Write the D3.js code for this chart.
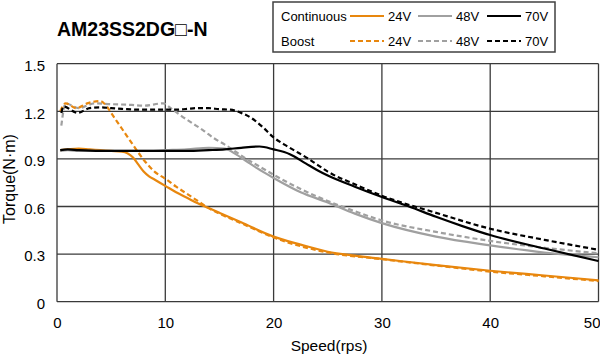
<!DOCTYPE html>
<html><head><meta charset="utf-8">
<script src="https://cdn.jsdelivr.net/npm/d3@7"></script>
<style>body{margin:0;background:#fff;} text{font-family:"Liberation Sans",Arial,sans-serif;}</style>
</head><body><svg id="c" width="600" height="357"></svg>
<script>
const xTicks=[0,10,20,30,40,50];
const yTicks=[0,0.3,0.6,0.9,1.2,1.5];
const yTickLabels=["0","0.3","0.6","0.9","1.2","1.5"];
const voltages=["24V","48V","70V"];
const colors=["#E8870E","#A0A0A0","#000000"];

const cont24X=[0.3,1,2,3,4,5,6,6.5,7,7.5,8,8.5,9,10,11,12,13,14,15,17,20,22.5,25,27.5,30,35,40,45,50];
const cont24Y=[0.955,0.96,0.965,0.96,0.955,0.95,0.945,0.935,0.91,0.865,0.82,0.79,0.77,0.73,0.69,0.655,0.62,0.59,0.56,0.5,0.41,0.36,0.315,0.29,0.27,0.23,0.195,0.165,0.135];
const boost24X=[0.3,0.8,1.8,2.8,4,4.6,5,6,7,8,9,10,11,12,13,14,15,17,20,25,30,35,40,45,50];
const boost24Y=[1.2,1.25,1.22,1.25,1.265,1.23,1.19,1.09,0.99,0.895,0.82,0.775,0.725,0.68,0.635,0.59,0.555,0.495,0.405,0.31,0.268,0.228,0.19,0.16,0.13];
const cont48X=[0.3,1,2,4,6,8,10,12,14,15.5,16.5,17.5,18.5,20,22.5,25,27.5,30,35,40,45,50];
const cont48Y=[0.95,0.955,0.95,0.95,0.95,0.95,0.955,0.96,0.97,0.965,0.93,0.885,0.84,0.78,0.69,0.625,0.555,0.495,0.41,0.355,0.31,0.28];
const boost48X=[0.4,0.8,2,3.5,5,6.9,8,9.8,10.5,11.5,12.5,13.5,14.5,15.5,16.5,17.5,18.5,20,22.5,25,27.5,30,35,40,45,50];
const boost48Y=[1.11,1.25,1.22,1.25,1.245,1.24,1.235,1.25,1.22,1.17,1.125,1.08,1.03,0.99,0.945,0.9,0.86,0.8,0.71,0.635,0.57,0.512,0.44,0.383,0.34,0.305];
const cont70X=[0.3,1,2,4,6,8,10,12,14,15.5,17,18.7,20,21.5,23,24,25,27.5,30,32.5,35,37.5,40,45,50];
const cont70Y=[0.955,0.96,0.955,0.95,0.95,0.95,0.95,0.95,0.955,0.96,0.97,0.978,0.96,0.93,0.87,0.83,0.795,0.725,0.66,0.6,0.535,0.475,0.42,0.335,0.256];
const boost70X=[0.4,0.6,1.9,3,4,5,6,8,10,11,12,13,14,15,16,17,18,19,20,21,22,23,24,25,27.5,30,35,40,45,50];
const boost70Y=[1.19,1.23,1.19,1.22,1.225,1.22,1.215,1.21,1.21,1.21,1.215,1.22,1.22,1.213,1.21,1.19,1.155,1.1,1.035,0.99,0.95,0.91,0.865,0.82,0.74,0.668,0.56,0.46,0.39,0.327];

const L=57,R=598.5,T=63.7,B=301.7;
const svg=d3.select("#c");
const x=d3.scaleLinear().domain([0,50]).range([L,R]);
const y=d3.scaleLinear().domain([0,1.5]).range([B,T]);
const grid="#3a3a3a";

svg.append("g").selectAll("line").data(xTicks).join("line")
 .attr("x1",d=>x(d)).attr("x2",d=>x(d)).attr("y1",T).attr("y2",B).attr("stroke",grid).attr("stroke-width",1.3);
svg.append("g").selectAll("line").data(yTicks).join("line")
 .attr("x1",L).attr("x2",R).attr("y1",d=>y(d)).attr("y2",d=>y(d)).attr("stroke",grid).attr("stroke-width",1.3);

const ax=svg.append("g").attr("transform",`translate(0,${B})`).call(d3.axisBottom(x).tickValues(xTicks).tickSize(0).tickPadding(16));
const ay=svg.append("g").attr("transform",`translate(${L},0)`).call(d3.axisLeft(y).tickValues(yTicks).tickSize(0).tickPadding(12).tickFormat((d,i)=>yTickLabels[i]));
[ax,ay].forEach(a=>{a.select(".domain").remove();a.selectAll("text").attr("font-size",15).attr("fill","#000");});
ay.selectAll("text").attr("dy","0.45em");
ax.selectAll("text").filter(d=>d===50).attr("text-anchor","end").attr("x",1.5);

svg.append("text").attr("x",329).attr("y",351).attr("text-anchor","middle").attr("font-size",15.5).text("Speed(rps)");
svg.append("text").attr("transform","translate(15,179) rotate(-90)").attr("text-anchor","middle").attr("font-size",16).text("Torque(N·m)");
svg.append("text").attr("x",57).attr("y",36).attr("font-size",19.5).attr("font-weight","bold").text("AM23SS2DG□-N");

const series=[
 {xs:cont24X,ys:cont24Y,c:0,dash:null},
 {xs:cont48X,ys:cont48Y,c:1,dash:null},
 {xs:boost48X,ys:boost48Y,c:1,dash:"5,3"},
 {xs:boost24X,ys:boost24Y,c:0,dash:"5,3"},
 {xs:cont70X,ys:cont70Y,c:2,dash:null},
 {xs:boost70X,ys:boost70Y,c:2,dash:"5,3"},
];
const line=d3.line().x(d=>x(d[0])).y(d=>y(d[1])).curve(d3.curveMonotoneX);
svg.append("clipPath").attr("id","pc").append("rect").attr("x",L).attr("y",T-5).attr("width",R-L+1).attr("height",B-T+5);
const g=svg.append("g").attr("clip-path","url(#pc)");
series.forEach(s=>{
  g.append("path").attr("d",line(s.xs.map((v,i)=>[v,s.ys[i]]))).attr("fill","none")
   .attr("stroke",colors[s.c]).attr("stroke-width",2.2).attr("stroke-dasharray",s.dash);
});

const lg=svg.append("g");
lg.append("rect").attr("x",273).attr("y",2).attr("width",282).attr("height",50).attr("fill","#fff").attr("stroke","#404040").attr("stroke-width",1.5);
const rows=[{label:"Continuous",dash:null,yy:16},{label:"Boost",dash:"5,3",yy:41}];
const sx=[350,418,487];
rows.forEach(r=>{
  lg.append("text").attr("x",281).attr("y",r.yy).attr("dy","0.35em").attr("font-size",13).text(r.label);
  voltages.forEach((v,i)=>{
    lg.append("line").attr("x1",sx[i]).attr("x2",sx[i]+34).attr("y1",r.yy).attr("y2",r.yy)
      .attr("stroke",colors[i]).attr("stroke-width",2.2).attr("stroke-dasharray",r.dash);
    lg.append("text").attr("x",sx[i]+38).attr("y",r.yy).attr("dy","0.35em").attr("font-size",13).text(v);
  });
});
</script></body></html>
